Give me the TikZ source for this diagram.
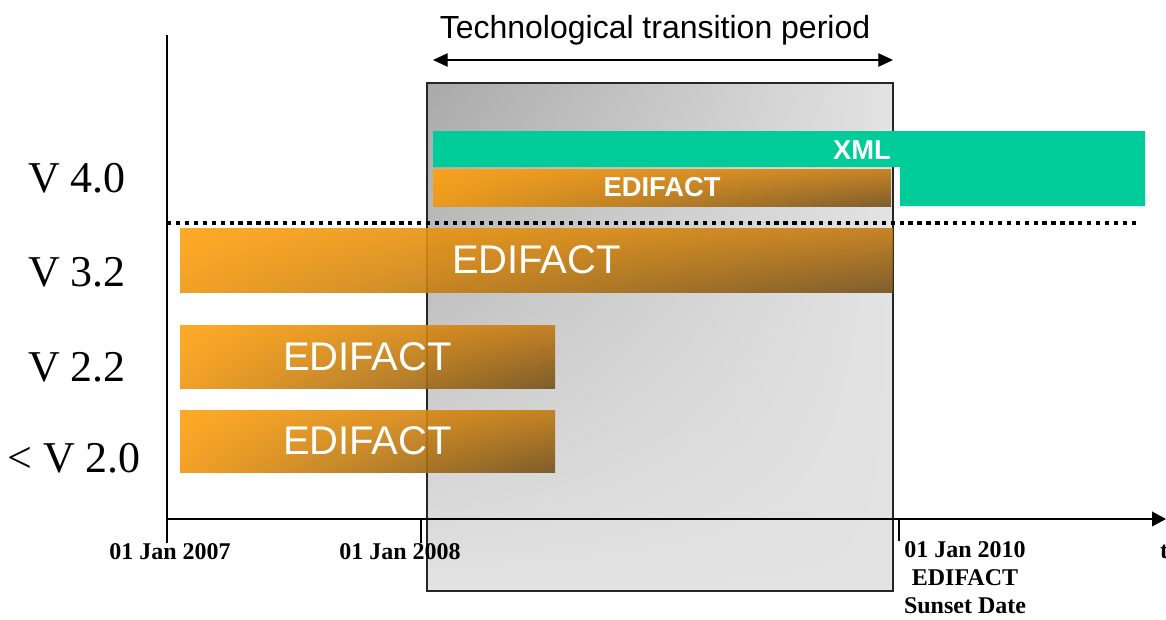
\documentclass[tikz,border=0pt]{standalone}
\usepackage{fontspec}
\setmainfont{Liberation Serif}
\setsansfont{Liberation Sans}
\usetikzlibrary{arrows.meta,fit,shadings}
\definecolor{axisblack}{HTML}{000000}
\definecolor{xmlgreen}{HTML}{00CC99}
\definecolor{barhi}{HTML}{FFA10E}
\definecolor{barmid}{HTML}{C47A12}
\definecolor{barlo}{HTML}{74501A}
\definecolor{boxdark}{HTML}{A9A9A9}
\definecolor{boxlight}{HTML}{E3E3E3}

\tikzset{
  edibar/.style={shade, inner sep=0pt, fill opacity=0.9,
    upper left=barhi, upper right=barmid, lower left=barhi!75!barmid, lower right=barlo},
  periodbox/.style={shade, inner sep=0pt, draw=black!85, line width=0.8pt,
    upper left=boxdark, upper right=boxlight, lower left=boxlight, lower right=boxlight},
  axisline/.style={axisblack, line width=1.1pt},
  rowlabel/.style={font=\rmfamily\fontsize{33}{36}\selectfont},
  datelabel/.style={font=\rmfamily\bfseries\fontsize{18}{21}\selectfont, align=center},
  bigtag/.style={font=\sffamily\fontsize{30}{32}\selectfont, text=white},
  smalltag/.style={font=\sffamily\bfseries\fontsize{20.5}{22}\selectfont, text=white}
}

\begin{document}
\begin{tikzpicture}[x=0.75pt, y=-0.75pt, >=Stealth, line width=1.1pt, font=\sffamily]
  \clip (0,0) rectangle (1166,619);
  \node[periodbox, fit={(427,83) (893,591)}] (period) {};

  \fill[xmlgreen] (433,131) -- (1145,131) -- (1145,206) -- (900,206) -- (900,167) -- (433,167) -- cycle;
  \node[smalltag] (xml) at (862,150) {XML};

  \node[edibar, fit={(433,169) (891,206)}] (edi40) {};
  \node[edibar, fit={(180,228) (893,292)}] (edi32) {};
  \node[edibar, fit={(180,325) (555,388)}] (edi22) {};
  \node[edibar, fit={(180,410) (555,472)}] (edi20) {};
  \node[smalltag] (e40) at (edi40.center) {EDIFACT};
  \node[bigtag] (e32) at (edi32.center) {EDIFACT};
  \node[bigtag] (e22) at (edi22.center) {EDIFACT};
  \node[bigtag] (e20) at (edi20.center) {EDIFACT};

  \draw[black, line width=3.2pt, dash pattern=on 3.2pt off 3.5pt] (167,223) -- (1140,223);

  \node[rowlabel] (v40) at (77,178) {V 4.0};
  \node[rowlabel] (v32) at (77,272) {V 3.2};
  \node[rowlabel] (v22) at (77,367) {V 2.2};
  \node[rowlabel] (v20) at (74,458) {< V 2.0};

  \coordinate (ytop) at (167,35);
  \coordinate (origin) at (167,519);
  \coordinate (tend) at (1166,519);
  \coordinate (tick07) at (167,543);
  \coordinate (tick08a) at (421,519);
  \coordinate (tick08b) at (421,543);
  \coordinate (tick10a) at (899,519);
  \coordinate (tick10b) at (899,541);
  \draw[axisline] (ytop) -- (tick07);
  \draw[axisline, -{Triangle[length=10.5pt, width=11pt]}] (origin) -- (tend);
  \draw[axisline] (tick08a) -- (tick08b);
  \draw[axisline] (tick10a) -- (tick10b);

  \node[datelabel] (d07) at (170,552) {01 Jan 2007};
  \node[datelabel] (d08) at (400,552) {01 Jan 2008};
  \node[datelabel] (d10) at (965,578) {01 Jan 2010\\EDIFACT\\Sunset Date};
  \node[datelabel] (tlab) at (1164,552) {t};

  \coordinate (tpl) at (433,60);
  \coordinate (tpr) at (893,60);
  \draw[axisline, line width=0.9pt, {Triangle[length=11pt, width=10pt]}-{Triangle[length=11pt, width=10pt]}] (tpl) -- (tpr);
  \node[font=\sffamily\fontsize{24}{26}\selectfont] (ttp) at (655,30) {Technological transition period};
\end{tikzpicture}
\end{document}
